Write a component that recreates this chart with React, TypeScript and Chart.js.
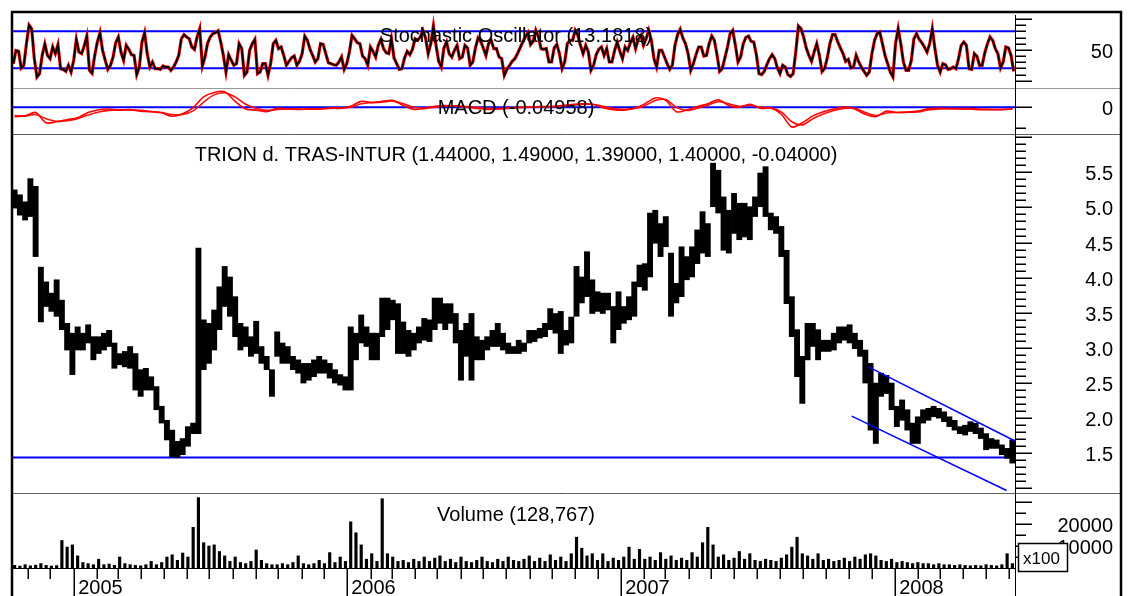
import React, { useEffect, useRef } from 'react';
import { Chart, registerables } from 'chart.js';

Chart.register(...registerables);

// ---------------- DATA ----------------
// one slot per trading week; first week starts Monday 2004-10-11
const FIRST_WEEK_MONDAY = '2004-10-11';
const WEEK_COUNT = 191;

// weekly high / low of the price
const PRICE_HIGH = [
  5.25, 5.18, 5.08, 5.41, 5.30, 4.15, 3.94, 3.78, 3.97, 3.68,
  3.35, 3.21, 3.30, 3.21, 3.33, 3.16, 3.16, 3.21, 3.25, 3.07,
  2.92, 2.95, 3.02, 2.92, 2.69, 2.71, 2.59, 2.45, 2.17, 1.97,
  1.83, 1.67, 1.71, 1.88, 1.93, 4.42, 3.40, 3.35, 3.54, 3.87,
  4.16, 4.01, 3.73, 3.35, 3.30, 3.16, 3.38, 3.02, 2.88, 2.69,
  3.23, 3.07, 3.02, 2.88, 2.83, 2.78, 2.78, 2.83, 2.88, 2.83,
  2.78, 2.69, 2.62, 2.59, 3.30, 3.21, 3.47, 3.30, 3.21, 3.21,
  3.71, 3.71, 3.68, 3.63, 3.37, 3.25, 3.21, 3.30, 3.42, 3.40,
  3.71, 3.71, 3.63, 3.63, 3.49, 3.25, 3.35, 3.49, 3.16, 3.11,
  3.16, 3.25, 3.35, 3.21, 3.07, 3.02, 3.11, 3.07, 3.25, 3.25,
  3.28, 3.35, 3.56, 3.49, 3.52, 3.25, 3.44, 4.16, 4.01, 4.37,
  3.97, 3.80, 3.78, 3.78, 3.59, 3.80, 3.59, 3.73, 3.94, 4.18,
  4.20, 4.92, 4.96, 4.77, 4.87, 4.35, 3.92, 4.44, 4.30, 4.44,
  4.68, 4.94, 4.77, 5.63, 5.53, 5.15, 4.96, 5.20, 5.06, 5.06,
  5.01, 5.15, 5.49, 5.58, 4.92, 4.87, 4.73, 4.39, 3.73, 3.26,
  2.88, 3.35, 3.35, 3.26, 3.11, 3.11, 3.21, 3.30, 3.30, 3.33,
  3.21, 3.11, 2.97, 2.78, 2.50, 2.64, 2.61, 2.50, 2.17, 2.26,
  2.12, 1.93, 2.02, 2.12, 2.14, 2.17, 2.14, 2.09, 2.02, 1.97,
  1.88, 1.90, 1.95, 1.93, 1.86, 1.78, 1.71, 1.69, 1.62, 1.57, 1.69,
];
const PRICE_LOW = [
  4.99, 4.89, 4.82, 4.87, 4.30, 3.37, 3.59, 3.52, 3.45, 3.26,
  2.97, 2.62, 2.97, 2.97, 3.07, 2.83, 2.92, 2.97, 3.02, 2.71,
  2.76, 2.73, 2.71, 2.40, 2.31, 2.40, 2.40, 2.12, 1.93, 1.69,
  1.45, 1.44, 1.48, 1.60, 1.78, 1.78, 2.69, 2.78, 2.97, 3.26,
  3.59, 3.45, 3.16, 2.97, 3.02, 2.88, 2.92, 2.78, 2.69, 2.31,
  2.88, 2.78, 2.78, 2.69, 2.64, 2.50, 2.54, 2.59, 2.64, 2.64,
  2.57, 2.50, 2.47, 2.40, 2.40, 2.83, 3.07, 3.02, 2.83, 2.83,
  3.16, 3.26, 3.40, 2.92, 2.92, 2.88, 2.97, 3.07, 3.11, 3.09,
  3.26, 3.35, 3.26, 3.35, 3.07, 2.54, 2.88, 2.54, 2.83, 2.83,
  2.97, 3.02, 3.02, 2.97, 2.92, 2.92, 2.92, 2.95, 3.07, 3.09,
  3.14, 3.16, 3.26, 3.21, 2.92, 3.04, 3.07, 3.45, 3.64, 3.73,
  3.49, 3.52, 3.49, 3.54, 3.07, 3.26, 3.35, 3.40, 3.45, 3.87,
  3.82, 4.01, 4.49, 4.30, 4.44, 3.45, 3.64, 3.73, 3.97, 4.01,
  4.20, 4.35, 4.30, 5.01, 4.92, 4.39, 4.35, 4.63, 4.54, 4.58,
  4.54, 4.87, 5.01, 4.87, 4.68, 4.63, 4.30, 3.63, 3.16, 2.59,
  2.21, 2.83, 3.02, 2.83, 2.95, 2.95, 2.97, 3.07, 3.11, 3.07,
  2.99, 2.88, 2.50, 1.83, 1.64, 2.31, 2.35, 2.12, 1.88, 1.97,
  1.83, 1.64, 1.64, 1.93, 1.97, 2.02, 2.00, 1.95, 1.88, 1.83,
  1.78, 1.76, 1.81, 1.78, 1.71, 1.55, 1.57, 1.57, 1.48, 1.43, 1.36,
];

// largest daily volume in each week, in units of 100 shares
const VOLUME_X100 = [
  1200, 900, 1500, 1000, 1300, 2000, 1200, 900, 1100, 12500,
  9500, 10500, 5500, 2500, 2000, 1500, 4000, 1500, 1800, 1200,
  5000, 2000, 1500, 1200, 1000, 1500, 3000, 1500, 2500, 5000,
  6000, 3500, 6800, 5000, 18500, 32000, 11500, 10000, 10500, 7500,
  5500, 3000, 5000, 2500, 2000, 3000, 8200, 3500, 2000, 1500,
  1500, 2000, 1500, 2500, 5500, 2000, 1500, 2000, 3500, 2000,
  7000, 2500, 5000, 3000, 21000, 16000, 10500, 4000, 6500, 3000,
  31500, 6500, 5000, 3000, 3500, 2500, 4000, 3000, 5000, 3000,
  4500, 5500, 3000, 4000, 2500, 5000, 3000, 2500, 3500, 5000,
  3000, 2500, 4000, 3000, 5000, 3500, 3000, 4000, 5500, 3000,
  4500, 3000, 6000, 3500, 5000, 3000, 6500, 14000, 9000, 5500,
  6500, 3500, 6500, 3000, 4500, 3500, 5000, 9500, 4000, 8500,
  4000, 5000, 3500, 7000, 4000, 5500, 3500, 4500, 3500, 7000,
  5000, 11500, 18500, 10500, 5000, 6000, 3500, 4500, 7500, 4000,
  6500, 3500, 3000, 4000, 3500, 3000, 4500, 6000, 9500, 14000,
  6500, 5500, 4000, 6500, 3500, 4000, 3000, 3500, 4500, 3000,
  5000, 4000, 6000, 6500, 5500, 3500, 3000, 4000, 2500, 3000,
  2500, 2000, 2500, 2000, 2000, 1500, 2000, 1500, 1500, 1200,
  1500, 1200, 1000, 1200, 1000, 1500, 1200, 1000, 1500, 6500, 2000,
];

// stochastic oscillator, two samples per week
const STOCH_K = [
  27.6, 49, 47.6, 20.6, 25, 60, 90, 84, 35.7, 6,
  11.4, 41, 59.5, 41, 35.7, 54.6, 43.8, 58.4, 19.5, 18.4,
  15.2, 25, 14, 33, 67, 46.5, 43.8, 56, 72.4, 16.8,
  12, 41, 62.7, 77.8, 49, 33, 18.4, 25, 38.4, 61.6,
  70.8, 46.5, 33, 57.3, 50.8, 42.2, 41, 9.8, 22.2, 62.7,
  77.8, 43.8, 22.2, 30.3, 19.5, 19.5, 18.4, 23.8, 22.2, 22.2,
  16.8, 22.2, 30.3, 41, 68, 74.6, 70.8, 68, 54.6, 50.8,
  70.8, 84.3, 23.8, 38.4, 61, 70.8, 76.2, 77.8, 81, 62.7,
  41, 14, 42.2, 33, 25, 27.6, 60, 52, 8.7, 14,
  49, 60, 67, 11.4, 14, 27.6, 27.6, 8.7, 27.6, 60,
  65.4, 52, 54.6, 41, 25, 31.4, 37.3, 40, 25, 31.4,
  43.8, 72.4, 65.4, 50.8, 41, 30.3, 35.7, 60, 59, 43.8,
  29.2, 27.6, 25.9, 25, 30.3, 38.4, 18.4, 27.6, 46.5, 73.5,
  68, 61.6, 60, 40, 35.7, 25, 54.6, 47.6, 38.4, 57.3,
  67, 52, 45.4, 43.8, 68, 36.8, 27.6, 18.4, 19.5, 36.8,
  47.6, 42.2, 50.8, 68, 65.4, 70.8, 81.6, 69.2, 43.8, 60,
  88.7, 57.3, 31.4, 22.2, 53, 62.7, 43.8, 38.4, 49, 57.3,
  35.7, 38.4, 57.3, 53, 25, 30.3, 53, 69.2, 63.8, 53,
  41, 60, 65.4, 52, 52, 38.4, 35.7, 8.7, 18.4, 25,
  31.4, 35.7, 43.8, 53, 62.7, 70.8, 77.8, 58.4, 63.8, 81.6,
  70.8, 52, 50.8, 52, 30.3, 30.3, 53, 59, 43.8, 19.5,
  30.3, 60, 65.4, 65.4, 81.6, 73.5, 57.3, 43.8, 57.3, 46.5,
  16.8, 25, 42.2, 50.8, 54.6, 41, 52, 30.3, 30.3, 49,
  62.7, 47.6, 35.7, 54.6, 49, 61.6, 70.3, 52, 67, 73.5,
  57.3, 68, 81.6, 65.4, 35.7, 22.2, 49, 49, 38.4, 27.6,
  18.4, 25, 57.3, 74.6, 83.2, 69.2, 60, 43.8, 16.8, 27.6,
  42.2, 54.6, 54.6, 40, 41, 60, 72.4, 65.4, 42.2, 15.2,
  19.5, 36.8, 54.6, 76.2, 81.6, 57.3, 30.3, 38.4, 60, 70.3,
  72.4, 63.8, 62.7, 42.2, 11.4, 9.8, 15.2, 25.9, 35.7, 42.2,
  35.7, 20.6, 11.4, 25, 22.2, 9.8, 7, 11.4, 46.5, 88.7,
  84.3, 70.8, 53, 41, 31.4, 46.5, 60, 41, 14.6, 20,
  36.8, 60, 74.6, 74.6, 62.7, 53, 43.8, 31.4, 34.6, 20.6,
  22.2, 41, 30.3, 21.7, 15.2, 8.7, 14, 43.8, 65.4, 76.2,
  78.9, 60, 41, 27.6, 14, 6, 60, 84.3, 60, 30.3,
  16.8, 16.8, 33, 68, 76.2, 67, 61.6, 54.6, 46.5, 60,
  84.3, 52, 25, 14, 27.6, 25.9, 18.4, 19.5, 22.2, 19.5,
  35.7, 57.3, 62.7, 57.3, 19.5, 18.4, 43.8, 39.5, 25, 25,
  45.4, 60, 70.8, 65.4, 52, 43.8, 20.6, 30.3, 54.6, 53,
  41, 15.2,
];

// MACD and its signal line, one sample every two weeks
const MACD_LINE = [
  -0.09, -0.083, -0.05, -0.15, -0.14, -0.12, -0.1, -0.05, -0.023, -0.017,
  -0.027, -0.023, -0.037, -0.043, -0.053, -0.087, -0.063, -0.003, 0.1, 0.143,
  0.15, 0.057, -0.017, -0.027, -0.043, -0.01, -0.017, -0.02, -0.017, -0.017,
  -0.007, -0.01, 0.01, 0.057, 0.047, 0.057, 0.067, 0.017, -0.02, -0.01,
  0.01, 0.017, 0.01, 0, -0.01, -0.02, -0.017, -0.007, 0, 0.003,
  0.007, 0.007, 0.017, 0.027, 0.033, 0.03, -0.003, -0.023, -0.027, -0.01,
  0.033, 0.09, 0.067, -0.043, -0.027, 0.007, 0.033, 0.073, 0.017, 0,
  0.03, -0.01, -0.007, -0.067, -0.19, -0.15, -0.083, -0.043, -0.017, 0.003,
  -0.017, -0.067, -0.09, -0.037, -0.05, -0.047, -0.037, -0.013, -0.01, -0.013,
  -0.017, -0.017, -0.023, -0.023, -0.023, -0.017,
];
const MACD_SIGNAL = [
  -0.08, -0.085, -0.07, -0.11, -0.135, -0.13, -0.11, -0.075, -0.045, -0.03,
  -0.025, -0.025, -0.03, -0.04, -0.05, -0.07, -0.07, -0.035, 0.05, 0.12,
  0.14, 0.1, 0.03, -0.01, -0.03, -0.02, -0.015, -0.018, -0.018, -0.017,
  -0.01, -0.008, 0.0, 0.035, 0.045, 0.05, 0.06, 0.035, 0.0, -0.01,
  0.0, 0.01, 0.015, 0.008, 0.0, -0.01, -0.013, -0.01, -0.003, 0.0,
  0.003, 0.004, 0.01, 0.02, 0.028, 0.03, 0.01, -0.012, -0.02, -0.012,
  0.015, 0.065, 0.075, 0.0, -0.03, -0.01, 0.02, 0.055, 0.035, 0.01,
  0.02, 0.0, -0.005, -0.045, -0.14, -0.17, -0.11, -0.065, -0.03, -0.01,
  -0.01, -0.05, -0.08, -0.055, -0.05, -0.048, -0.045, -0.025, -0.015, -0.013,
  -0.013, -0.013, -0.018, -0.02, -0.02, -0.018,
];

// reference lines
const STOCH_LEVELS = [20, 80];
const MACD_LEVELS = [0];
const PRICE_LEVELS = [1.44];
const CHANNEL_UPPER = [{ week: 162.6, price: 2.73 }, { week: 190.5, price: 1.675 }];
const CHANNEL_LOWER = [{ week: 159.4, price: 2.03 }, { week: 188.9, price: 0.97 }];

// texts and tick labels
const TITLE_STOCH = 'Stochastic Oscillator (13.1818)';
const TITLE_MACD = 'MACD (-0.04958)';
const TITLE_PRICE = 'TRION d. TRAS-INTUR (1.44000, 1.49000, 1.39000, 1.40000, -0.04000)';
const TITLE_VOLUME = 'Volume (128,767)';
const STOCH_TICK_LABELS = ['50'];
const MACD_TICK_LABELS = ['0'];
const PRICE_TICK_LABELS = ['1.5', '2.0', '2.5', '3.0', '3.5', '4.0', '4.5', '5.0', '5.5'];
const VOLUME_TICK_LABELS = ['10000', '20000'];
const VOLUME_UNIT_LABEL = 'x100';

// ---------------- LAYOUT ----------------
const W = 1128;
const H = 596;
const PLOT = { left: 12, right: 1015, top: 12, bottom: 568 };
const FRAME_RIGHT = 1121;
const LABEL_RIGHT = 1113;
const FONT = '"Liberation Sans", Arial, Helvetica, sans-serif';
const BLUE = '#0000ff';

type Panel = { v0: number; p0: number; v1: number; p1: number };
const PANEL_STOCH: Panel = { v0: 0, p0: 80.7, v1: 100, p1: 19 };
const PANEL_MACD: Panel = { v0: 0, p0: 107.3, v1: -0.2, p1: 128 };
const PANEL_PRICE: Panel = { v0: 1.5, p0: 453.3, v1: 5.5, p1: 172.3 };
const PANEL_VOL: Panel = { v0: 0, p0: 568, v1: 20000, p1: 524 };

function bounds(p: Panel) {
  const k = (p.v1 - p.v0) / (p.p1 - p.p0);
  return { min: p.v0 + (PLOT.bottom - p.p0) * k, max: p.v0 + (PLOT.top - p.p0) * k };
}

function seg(ctx: CanvasRenderingContext2D, x1: number, y1: number, x2: number, y2: number) {
  ctx.beginPath();
  ctx.moveTo(x1, y1);
  ctx.lineTo(x2, y2);
  ctx.stroke();
}

function range(a: number, b: number, step: number) {
  const out: number[] = [];
  const n = Math.round((b - a) / step);
  for (let i = 0; i <= n; i++) out.push(+(a + i * step).toFixed(6));
  return out;
}

export default function App() {
  const ref = useRef<HTMLCanvasElement>(null);

  useEffect(() => {
    const canvas = ref.current;
    if (!canvas) return;

    const startMs = Date.parse(FIRST_WEEK_MONDAY + 'T00:00:00Z');
    const weekOf = (ms: number) => (ms - startMs) / (7 * 86400000) - 0.5;

    const priceData = PRICE_HIGH.map((h, i) => ({ x: i, y: [PRICE_LOW[i], h] }));
    const volData = VOLUME_X100.map((v, i) => ({ x: i, y: v }));
    const stochData = STOCH_K.map((v, j) => ({ x: j / 2 - 0.25, y: v }));
    const macdData = MACD_LINE.map((v, k) => ({ x: 2 * k, y: v }));
    const sigData = MACD_SIGNAL.map((v, k) => ({ x: 2 * k, y: v }));

    const decor = {
      id: 'decor',
      beforeDraw(chart: any) {
        const ctx = chart.ctx as CanvasRenderingContext2D;
        ctx.save();
        ctx.fillStyle = '#ffffff';
        ctx.fillRect(0, 0, W, H);
        ctx.restore();
      },
      beforeDatasetsDraw(chart: any) {
        const ctx = chart.ctx as CanvasRenderingContext2D;
        const s = chart.scales;
        ctx.save();
        ctx.strokeStyle = BLUE;
        ctx.lineWidth = 2;
        const hl = (y: number) => seg(ctx, PLOT.left, y, PLOT.right, y);
        STOCH_LEVELS.forEach((v) => hl(s.yS.getPixelForValue(v)));
        MACD_LEVELS.forEach((v) => hl(s.yM.getPixelForValue(v)));
        PRICE_LEVELS.forEach((v) => hl(s.yP.getPixelForValue(v)));
        ctx.restore();
      },
      afterDatasetsDraw(chart: any) {
        const ctx = chart.ctx as CanvasRenderingContext2D;
        const s = chart.scales;
        ctx.save();

        // trend channel
        ctx.strokeStyle = BLUE;
        ctx.lineWidth = 1.5;
        [CHANNEL_UPPER, CHANNEL_LOWER].forEach((c) =>
          seg(
            ctx,
            s.x.getPixelForValue(c[0].week), s.yP.getPixelForValue(c[0].price),
            s.x.getPixelForValue(c[1].week), s.yP.getPixelForValue(c[1].price)
          )
        );

        // panel titles
        ctx.fillStyle = '#000';
        ctx.font = `20px ${FONT}`;
        ctx.textAlign = 'center';
        ctx.textBaseline = 'alphabetic';
        const cx = 516;
        ctx.fillText(TITLE_STOCH, cx, 41.5);
        ctx.fillText(TITLE_MACD, cx, 113.5);
        ctx.fillText(TITLE_PRICE, cx, 160.5);
        ctx.fillText(TITLE_VOLUME, cx, 520.5);

        // panel separators
        ctx.lineWidth = 1;
        ctx.strokeStyle = '#9a9a9a';
        seg(ctx, PLOT.left, 88.5, FRAME_RIGHT, 88.5);
        ctx.strokeStyle = '#606060';
        seg(ctx, PLOT.left, 134.5, FRAME_RIGHT, 134.5);
        seg(ctx, PLOT.left, 493.5, FRAME_RIGHT, 493.5);
        ctx.strokeStyle = '#000';
        seg(ctx, PLOT.left, 568.5, PLOT.right, 568.5);

        // right axis line
        seg(ctx, PLOT.right + 0.5, 15, PLOT.right + 0.5, H);

        // right axis ticks
        ctx.lineWidth = 1.5;
        const ticks = (scale: any, values: number[], major: (v: number) => boolean) => {
          values.forEach((v) => {
            const y = Math.round(scale.getPixelForValue(v)) + 0.25;
            seg(ctx, PLOT.right, y, PLOT.right + (major(v) ? 17 : 11), y);
          });
        };
        ticks(s.yS, range(0, 100, 10), (v) => v % 50 === 0);
        ticks(s.yM, [-0.2, 0], (v) => v === 0);
        ticks(s.yP, range(1.0, 6.0, 0.1), (v) => Math.abs(v * 2 - Math.round(v * 2)) < 1e-6);
        ticks(s.yV, range(5000, 30000, 5000), (v) => v % 10000 === 0);

        // right axis labels
        ctx.textAlign = 'right';
        ctx.font = `20px ${FONT}`;
        const labels = (scale: any, list: string[]) =>
          list.forEach((t) => ctx.fillText(t, LABEL_RIGHT, scale.getPixelForValue(parseFloat(t)) + 8));
        labels(s.yS, STOCH_TICK_LABELS);
        labels(s.yM, MACD_TICK_LABELS);
        labels(s.yP, PRICE_TICK_LABELS);
        labels(s.yV, VOLUME_TICK_LABELS);

        // x100 box
        ctx.fillStyle = '#fff';
        ctx.fillRect(1018, 543, 50, 29);
        ctx.strokeStyle = '#000';
        ctx.lineWidth = 1.5;
        ctx.strokeRect(1018.5, 543.5, 49, 28);
        ctx.fillStyle = '#000';
        ctx.textAlign = 'left';
        ctx.font = `17px ${FONT}`;
        ctx.fillText(VOLUME_UNIT_LABEL, 1023, 564);

        // time axis: month ticks and year ticks
        ctx.font = `20px ${FONT}`;
        ctx.lineWidth = 1.5;
        for (let yr = 2004; yr <= 2008; yr++) {
          for (let m = 0; m < 12; m++) {
            const w = weekOf(Date.UTC(yr, m, 1));
            if (w < -0.5 || w > WEEK_COUNT - 0.5) continue;
            const px = Math.round(s.x.getPixelForValue(w)) + 0.25;
            if (m === 0) {
              seg(ctx, px, 568, px, H);
              ctx.fillText(String(yr), px + 4, 594);
            } else {
              seg(ctx, px, 568, px, 579);
            }
          }
        }

        // frame
        ctx.lineWidth = 2.5;
        ctx.strokeStyle = '#000';
        seg(ctx, 12, 11, 12, H);
        seg(ctx, 11, 12, FRAME_RIGHT + 1, 12);
        seg(ctx, FRAME_RIGHT, 11, FRAME_RIGHT, H);

        ctx.restore();
      },
    };

    const chart = new Chart(canvas, {
      type: 'line',
      data: {
        datasets: [
          {
            type: 'bar', label: 'Price', data: priceData as any,
            xAxisID: 'x', yAxisID: 'yP', backgroundColor: '#000', borderWidth: 0,
            grouped: false, barPercentage: 1, categoryPercentage: 1, order: 5,
          } as any,
          {
            type: 'bar', label: 'Volume', data: volData as any,
            xAxisID: 'x', yAxisID: 'yV', backgroundColor: '#000', borderWidth: 0,
            grouped: false, maxBarThickness: 2.5, barPercentage: 1, categoryPercentage: 1, order: 5,
          } as any,
          {
            type: 'line', label: '%D', data: stochData as any, xAxisID: 'x', yAxisID: 'yS',
            borderColor: '#ff0000', borderWidth: 3.2, pointRadius: 0, tension: 0, order: 3,
          } as any,
          {
            type: 'line', label: '%K', data: stochData as any, xAxisID: 'x', yAxisID: 'yS',
            borderColor: '#000000', borderWidth: 1.8, pointRadius: 0, tension: 0, order: 1,
          } as any,
          {
            type: 'line', label: 'Signal', data: sigData as any, xAxisID: 'x', yAxisID: 'yM',
            borderColor: '#ff1010', borderWidth: 1.6, pointRadius: 0, tension: 0.3, order: 2,
          } as any,
          {
            type: 'line', label: 'MACD', data: macdData as any, xAxisID: 'x', yAxisID: 'yM',
            borderColor: '#ff0000', borderWidth: 1.6, pointRadius: 0, tension: 0.3, order: 1,
          } as any,
        ],
      },
      options: {
        responsive: false,
        animation: false,
        devicePixelRatio: 1,
        events: [],
        layout: {
          padding: { left: PLOT.left, right: W - PLOT.right, top: PLOT.top, bottom: H - PLOT.bottom },
        },
        plugins: { legend: { display: false }, tooltip: { enabled: false }, title: { display: false } },
        scales: {
          x: {
            type: 'linear', display: false, offset: false,
            min: -0.5, max: WEEK_COUNT - 0.5,
            ticks: { includeBounds: false, maxTicksLimit: 4 },
          },
          yS: { type: 'linear', display: false, bounds: 'data', ...bounds(PANEL_STOCH) },
          yM: { type: 'linear', display: false, bounds: 'data', ...bounds(PANEL_MACD) },
          yP: { type: 'linear', display: false, bounds: 'data', ...bounds(PANEL_PRICE) },
          yV: { type: 'linear', display: false, bounds: 'data', ...bounds(PANEL_VOL) },
        } as any,
      },
      plugins: [decor],
    });

    return () => chart.destroy();
  }, []);

  return (
    <div style={{ position: 'absolute', left: 0, top: 0, width: W, height: H, background: '#fff' }}>
      <canvas ref={ref} width={W} height={H} style={{ display: 'block', width: W, height: H }} />
    </div>
  );
}
